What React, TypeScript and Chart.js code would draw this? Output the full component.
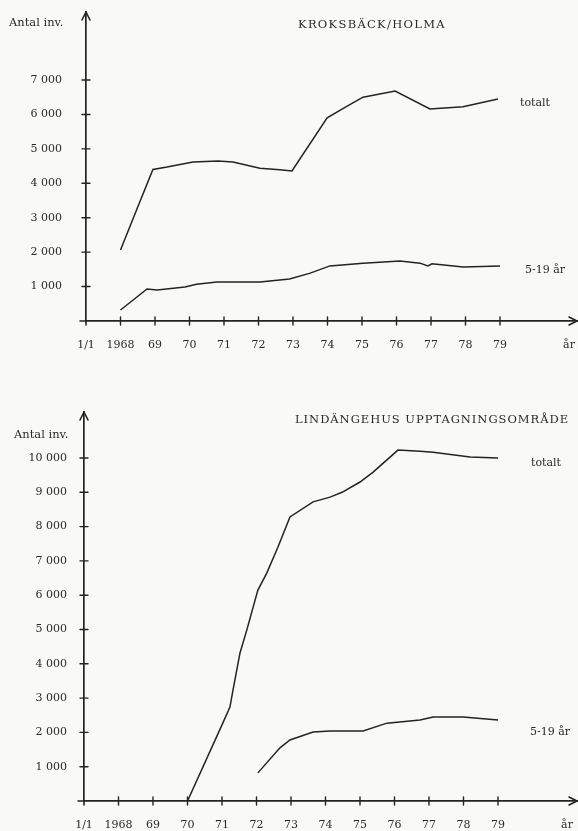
import React, { useEffect, useRef } from "react";
import { Chart, registerables } from "chart.js";

Chart.register(...registerables);

// ---------- data ----------
const xTickYears = [1967, 1968, 1969, 1970, 1971, 1972, 1973, 1974, 1975, 1976, 1977, 1978, 1979, 1981];
const xTickLabels = ["1/1", "1968", "69", "70", "71", "72", "73", "74", "75", "76", "77", "78", "79", "år"];
const xMarkYears = [1968, 1969, 1970, 1971, 1972, 1973, 1974, 1975, 1976, 1977, 1978, 1979];

const yAxisTitle = "Antal inv.";
const seriesNames = ["totalt", "5-19 år"];

// KROKSBÄCK/HOLMA
const topTitle = "KROKSBÄCK/HOLMA";
const topYTicks = [1000, 2000, 3000, 4000, 5000, 6000, 7000];
const topTotalYears = [1968.0, 1968.5, 1968.94, 1969.35, 1970.1, 1970.83, 1971.26, 1972.04, 1972.62, 1972.97, 1973.99, 1974.57, 1975.03, 1975.96, 1976.97, 1977.93, 1978.94];
const topTotalValues = [2060, 3310, 4400, 4470, 4620, 4650, 4620, 4440, 4390, 4360, 5900, 6240, 6500, 6680, 6160, 6220, 6450];
const topYouthYears = [1968.0, 1968.77, 1969.06, 1969.87, 1970.2, 1970.8, 1972.04, 1972.9, 1973.5, 1974.07, 1975.03, 1976.1, 1976.68, 1976.91, 1977.03, 1977.93, 1979.0];
const topYouthValues = [320, 930, 900, 990, 1070, 1130, 1130, 1220, 1390, 1600, 1680, 1740, 1680, 1600, 1660, 1570, 1600];

// LINDÄNGEHUS UPPTAGNINGSOMRÅDE
const bottomTitle = "LINDÄNGEHUS UPPTAGNINGSOMRÅDE";
const bottomYTicks = [1000, 2000, 3000, 4000, 5000, 6000, 7000, 8000, 9000, 10000];
const bottomTotalYears = [1970.0, 1971.0, 1971.23, 1971.32, 1971.52, 1971.72, 1972.04, 1972.3, 1972.62, 1972.97, 1973.64, 1974.13, 1974.48, 1975.0, 1975.38, 1976.1, 1976.74, 1977.12, 1978.19, 1979.0];
const bottomTotalValues = [0, 2220, 2740, 3240, 4310, 4990, 6150, 6650, 7400, 8280, 8720, 8860, 9000, 9300, 9590, 10230, 10200, 10170, 10030, 10000];
const bottomYouthYears = [1972.04, 1972.68, 1972.97, 1973.64, 1974.13, 1975.09, 1975.78, 1976.74, 1977.12, 1977.99, 1979.0];
const bottomYouthValues = [820, 1550, 1780, 2010, 2040, 2040, 2270, 2360, 2450, 2450, 2360];

// ---------- styling ----------
const FONT = '"DejaVu Serif", "Liberation Serif", serif';
const INK = "#232323";
const TEXT = "#2a2a2a";
const BG = "#f9f9f8";

const fmtThousands = (v: number) =>
  v >= 1000 ? `${Math.floor(v / 1000)} ${String(v % 1000).padStart(3, "0")}` : String(v);

type TextItem = { text: string; x: number; y: number; align?: CanvasTextAlign; size?: number; spacing?: number };

function decorPlugin(yTicks: number[], texts: TextItem[]) {
  return {
    id: "decor",
    afterDraw(chart: any) {
      const { ctx, chartArea, scales } = chart;
      const { left, right, top, bottom } = chartArea;
      ctx.save();
      ctx.strokeStyle = INK;
      ctx.lineWidth = 1.6;
      ctx.lineCap = "round";
      ctx.lineJoin = "round";
      // axis extensions
      ctx.beginPath();
      ctx.moveTo(left - 6, bottom);
      ctx.lineTo(left, bottom);
      ctx.moveTo(left, bottom);
      ctx.lineTo(left, bottom + 4);
      ctx.stroke();
      // arrow heads
      ctx.beginPath();
      ctx.moveTo(left - 4, top + 8);
      ctx.lineTo(left, top);
      ctx.lineTo(left + 4, top + 8);
      ctx.moveTo(right - 8, bottom - 4);
      ctx.lineTo(right, bottom);
      ctx.lineTo(right - 8, bottom + 4);
      ctx.stroke();
      // tick crosses
      ctx.lineWidth = 1.4;
      ctx.beginPath();
      for (const v of yTicks) {
        const py = scales.y.getPixelForValue(v);
        ctx.moveTo(left - 4, py);
        ctx.lineTo(left + 4, py);
      }
      for (const v of xMarkYears) {
        const px = scales.x.getPixelForValue(v);
        ctx.moveTo(px, bottom - 4);
        ctx.lineTo(px, bottom + 4);
      }
      ctx.stroke();
      // texts
      ctx.fillStyle = TEXT;
      ctx.textBaseline = "middle";
      for (const t of texts) {
        ctx.font = `${t.size ?? 11}px ${FONT}`;
        (ctx as any).letterSpacing = `${t.spacing ?? 0}px`;
        ctx.textAlign = t.align ?? "left";
        ctx.fillText(t.text, t.x, t.y);
      }
      ctx.restore();
    },
  };
}

type Params = {
  height: number;
  axisLeft: number;
  axisRight: number;
  padTop: number;
  xScaleHeight: number;
  yMax: number;
  yTicks: number[];
  yPadding: number;
  totalYears: number[];
  totalValues: number[];
  youthYears: number[];
  youthValues: number[];
  texts: TextItem[];
};

const zeroPad = (s: any) => {
  s.paddingLeft = 0;
  s.paddingRight = 0;
  s.paddingTop = 0;
  s.paddingBottom = 0;
};

function buildConfig(p: Params, width: number): any {
  const pxPerYear = 34.5;
  const xMax = 1967 + (p.axisRight - p.axisLeft) / pxPerYear;
  const line = (xs: number[], ys: number[], label: string) => ({
    label,
    data: xs.map((x, i) => ({ x, y: ys[i] })),
    borderColor: INK,
    borderWidth: 1.5,
    pointRadius: 0,
    tension: 0,
    fill: false,
  });
  return {
    type: "line",
    data: {
      datasets: [
        line(p.totalYears, p.totalValues, seriesNames[0]),
        line(p.youthYears, p.youthValues, seriesNames[1]),
      ],
    },
    options: {
      responsive: false,
      animation: false,
      devicePixelRatio: 1,
      layout: { padding: { top: p.padTop, right: width - p.axisRight, left: 0, bottom: 0 } },
      plugins: { legend: { display: false }, tooltip: { enabled: false }, title: { display: false } },
      scales: {
        x: {
          type: "linear",
          min: 1967,
          max: xMax,
          afterBuildTicks: (s: any) => {
            s.ticks = xTickYears.map((v) => ({ value: v }));
          },
          afterFit: (s: any) => {
            s.height = p.xScaleHeight;
            zeroPad(s);
          },
          ticks: {
            autoSkip: false,
            maxRotation: 0,
            padding: 18,
            color: TEXT,
            font: { family: FONT, size: 11 },
            callback: (v: number) => {
              const i = xTickYears.indexOf(v);
              return i >= 0 ? xTickLabels[i] : "";
            },
          },
          grid: { display: false, drawTicks: false },
          border: { display: true, color: INK, width: 1.7 },
        },
        y: {
          type: "linear",
          min: 0,
          max: p.yMax,
          afterBuildTicks: (s: any) => {
            s.ticks = p.yTicks.map((v) => ({ value: v }));
          },
          afterFit: (s: any) => {
            s.width = p.axisLeft;
            zeroPad(s);
          },
          ticks: {
            padding: p.yPadding,
            color: TEXT,
            font: { family: FONT, size: 11 },
            callback: (v: number) => fmtThousands(v),
          },
          grid: { display: false, drawTicks: false },
          border: { display: true, color: INK, width: 1.7 },
        },
      },
    },
    plugins: [decorPlugin(p.yTicks, p.texts)],
  };
}

function LineChart({ params, top, width }: { params: Params; top: number; width: number }) {
  const ref = useRef<HTMLCanvasElement>(null);
  useEffect(() => {
    const chart = new Chart(ref.current as HTMLCanvasElement, buildConfig(params, width));
    return () => chart.destroy();
  }, []);
  return (
    <canvas
      ref={ref}
      width={width}
      height={params.height}
      style={{ position: "absolute", left: 0, top, width, height: params.height, display: "block" }}
    />
  );
}

const topParams: Params = {
  height: 400,
  axisLeft: 86,
  axisRight: 577,
  padTop: 12,
  xScaleHeight: 79,
  yMax: 8975,
  yTicks: topYTicks,
  yPadding: 24,
  totalYears: topTotalYears,
  totalValues: topTotalValues,
  youthYears: topYouthYears,
  youthValues: topYouthValues,
  texts: [
    { text: yAxisTitle, x: 9, y: 23, size: 11.5 },
    { text: topTitle, x: 298, y: 25, size: 11.5, spacing: 1.3 },
    { text: seriesNames[0], x: 520, y: 103 },
    { text: seriesNames[1], x: 525, y: 270 },
  ],
};

const bottomParams: Params = {
  height: 431,
  axisLeft: 84,
  axisRight: 577,
  padTop: 12,
  xScaleHeight: 30,
  yMax: 11341,
  yTicks: bottomYTicks,
  yPadding: 17,
  totalYears: bottomTotalYears,
  totalValues: bottomTotalValues,
  youthYears: bottomYouthYears,
  youthValues: bottomYouthValues,
  texts: [
    { text: yAxisTitle, x: 14, y: 35, size: 11.5 },
    { text: bottomTitle, x: 295, y: 20, size: 11.5, spacing: 0.97 },
    { text: seriesNames[0], x: 531, y: 63 },
    { text: seriesNames[1], x: 530, y: 332 },
  ],
};

export default function App() {
  return (
    <div style={{ position: "absolute", left: 0, top: 0, width: 578, height: 831, background: BG, overflow: "hidden" }}>
      <LineChart params={topParams} top={0} width={578} />
      <LineChart params={bottomParams} top={400} width={578} />
    </div>
  );
}
